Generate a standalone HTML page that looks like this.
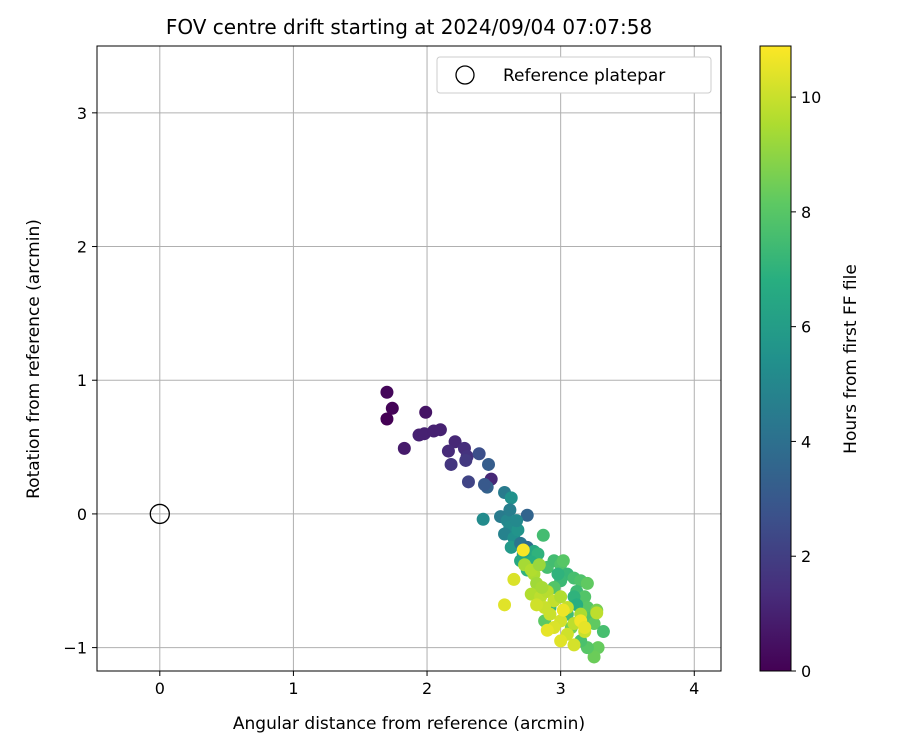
<!DOCTYPE html>
<html><head><meta charset="utf-8"><style>
body{margin:0;background:#fff;font-family:"Liberation Sans",sans-serif}
svg text{font-family:"DejaVu Sans","Liberation Sans",sans-serif;fill:#000}
</style></head><body>
<svg id="c" width="900" height="750">
<defs><linearGradient id="vir" x1="0" y1="1" x2="0" y2="0">
<stop offset="0" stop-color="#440154"/><stop offset="0.125" stop-color="#472d7b"/><stop offset="0.25" stop-color="#3b528b"/><stop offset="0.375" stop-color="#2c728e"/><stop offset="0.5" stop-color="#21918c"/><stop offset="0.625" stop-color="#28ae80"/><stop offset="0.75" stop-color="#5ec962"/><stop offset="0.875" stop-color="#addc30"/><stop offset="1" stop-color="#fde725"/></linearGradient></defs>
<text x="409" y="34" font-size="20" text-anchor="middle">FOV centre drift starting at 2024/09/04 07:07:58</text>
<g id="grid"></g><g id="pts"></g>
<rect x="97" y="46" width="624" height="625" fill="none" stroke="#000" stroke-width="1"/>
<g id="ticks"></g>
<text x="409" y="729" font-size="17" text-anchor="middle">Angular distance from reference (arcmin)</text>
<text transform="translate(39,359) rotate(-90)" font-size="17" text-anchor="middle">Rotation from reference (arcmin)</text>
<g>
<rect x="437" y="57" width="274" height="36" rx="3" fill="#fff" stroke="#ccc"/>
<circle cx="465" cy="75" r="9" fill="none" stroke="#000" stroke-width="1.3"/>
<text x="503" y="81" font-size="17">Reference platepar</text></g>
<rect x="760" y="46" width="31" height="625" fill="url(#vir)" stroke="#000"/>
<g id="cbt"></g>
<text transform="translate(856,359) rotate(-90)" font-size="17" text-anchor="middle">Hours from first FF file</text>
</svg>
<script>
const xTicks=[0,1,2,3,4];
const yTicks=[-1,0,1,2,3];
const cTicks=[0,2,4,6,8,10];
const refPoint=[0,0];
const xs=[1.70,1.74,1.70,1.99,1.83,1.94,1.98,2.05,2.10,2.21,2.16,2.28,2.30,2.18,2.29,2.39,2.46,2.31,2.48,2.45,2.43,2.58,2.63,2.42,2.75,
2.55,2.6,2.62,2.58,2.65,2.68,2.63,2.7,2.72,2.62,2.67,2.75,2.8,2.87,2.83,2.78,2.9,2.7,2.75,
2.95,3.0,3.02,3.05,3.1,3.15,3.2,3.12,3.18,3.2,3.22,3.25,3.32,3.28,3.25,3.2,3.15,3.0,2.95,2.92,2.88,3.05,3.08,3.1,2.98,3.12,3.27,
2.73,2.8,2.82,2.78,2.85,2.9,2.95,2.88,2.82,3.0,3.05,3.0,2.95,3.05,3.1,3.15,3.0,3.1,3.18,2.92,2.86,2.65,2.58,2.72,3.02,3.15,3.18,2.9,3.27,2.78,2.84];
const ys=[0.91,0.79,0.71,0.76,0.49,0.59,0.60,0.62,0.63,0.54,0.47,0.49,0.43,0.37,0.40,0.45,0.37,0.24,0.26,0.20,0.22,0.16,0.12,-0.04,-0.01,
-0.02,-0.05,-0.1,-0.15,-0.18,-0.12,-0.25,-0.22,-0.3,0.03,-0.05,-0.25,-0.28,-0.16,-0.3,-0.36,-0.4,-0.35,-0.42,
-0.35,-0.38,-0.35,-0.45,-0.48,-0.5,-0.52,-0.58,-0.62,-0.7,-0.78,-0.82,-0.88,-1.0,-1.07,-1.0,-0.95,-0.5,-0.55,-0.7,-0.8,-0.75,-0.85,-0.62,-0.45,-0.68,-0.72,
-0.38,-0.45,-0.52,-0.6,-0.62,-0.58,-0.65,-0.7,-0.68,-0.62,-0.7,-0.8,-0.85,-0.9,-0.82,-0.75,-0.95,-0.98,-0.88,-0.75,-0.55,-0.49,-0.68,-0.27,-0.72,-0.8,-0.85,-0.87,-0.74,-0.42,-0.38];
const hours=[0.2,0.1,0,0.6,0.8,1.0,1.0,1.0,1.0,1.2,1.3,1.4,1.6,1.7,1.8,2.6,3.2,2.2,1.2,3.4,3.0,4.5,5.5,5.2,3.5,
4.5,5,5.2,4.8,5.4,5.6,5.8,4.2,6,4.6,5.1,3.8,6.5,7.5,7,6.8,7.6,6.5,7,
7.5,7.8,8,7.2,7.6,7.8,8.2,7.4,7.9,8,7.8,8.2,7.6,8.3,8.4,8,7.7,7.3,7.9,7.2,8.1,7.5,8.5,7.0,7.0,6.8,8.6,
9.4,9.5,9.3,9.6,9.8,9.7,9.9,10,10.1,9.6,9.9,10.2,10.3,10.1,9.8,9.5,10.4,10.2,10.0,10.0,9.4,10.3,10.4,10.8,10.6,10.7,10.5,10.5,9.8,9.6,9.2];
const X0=-0.47,X1=4.2,Y0=-1.175,Y1=3.5,CMAX=10.89;
const px=v=>97+(v-X0)/(X1-X0)*624;
const py=v=>671-(v-Y0)/(Y1-Y0)*625;
const pc=v=>671-v/CMAX*625;
const V=[[68,1,84],[71,45,123],[59,82,139],[44,114,142],[33,145,140],[40,174,128],[94,201,98],[173,220,48],[253,231,37]];
function vir(h){let t=Math.max(0,Math.min(1,h/CMAX))*8,i=Math.min(7,Math.floor(t)),f=t-i;
return 'rgb('+V[i].map((c,k)=>Math.round(c+(V[i+1][k]-c)*f)).join(',')+')';}
const NS='http://www.w3.org/2000/svg';
function mk(tag,attrs,parent){const e=document.createElementNS(NS,tag);for(const k in attrs)e.setAttribute(k,attrs[k]);parent.appendChild(e);return e;}
const grid=document.getElementById('grid'),ticks=document.getElementById('ticks'),pts=document.getElementById('pts'),cbt=document.getElementById('cbt');
xTicks.forEach(v=>{const x=px(v);
const g=mk('line',{x1:x,x2:x,y1:46,y2:671,stroke:'#b0b0b0','stroke-width':1},grid);


const t=mk('line',{x1:x,x2:x,y1:671,y2:676,stroke:'#000'},ticks);


const l=mk('text',{x:x,y:694,'font-size':16,'text-anchor':'middle'},ticks);l.textContent=v;

});
yTicks.forEach(v=>{const y=py(v);
const g=mk('line',{x1:97,x2:721,y1:y,y2:y,stroke:'#b0b0b0','stroke-width':1},grid);


const t=mk('line',{x1:92,x2:97,y1:y,y2:y,stroke:'#000'},ticks);


const l=mk('text',{x:87,y:y+6,'font-size':16,'text-anchor':'end'},ticks);l.textContent=v<0?'\u2212'+(-v):v;

});
cTicks.forEach(v=>{const y=pc(v);
const t=mk('line',{x1:791,x2:796,y1:y,y2:y,stroke:'#000'},cbt);


const l=mk('text',{x:801,y:y+6,'font-size':16},cbt);l.textContent=v;

});
xs.forEach((x,i)=>{const c=mk('circle',{cx:px(x),cy:py(ys[i]),r:6.5,fill:vir(hours[i])},pts);

});
const r=mk('circle',{cx:px(refPoint[0]),cy:py(refPoint[1]),r:9.5,fill:'none',stroke:'#000','stroke-width':1.3},pts);


</script>
</body></html>
